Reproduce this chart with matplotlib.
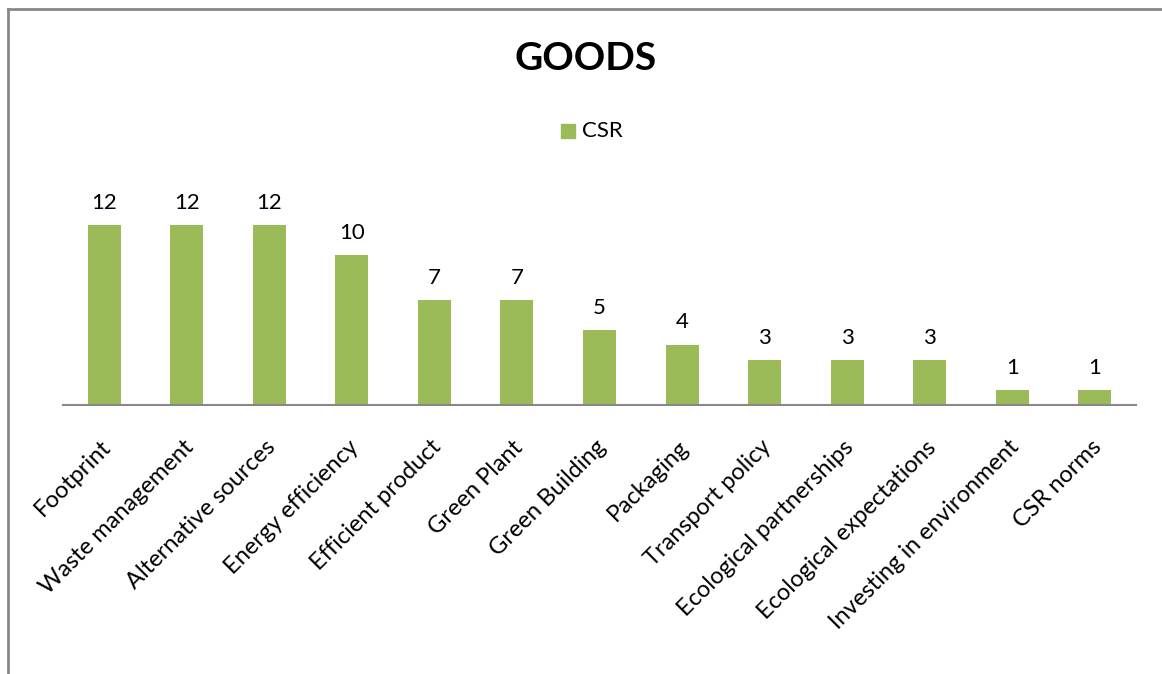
import matplotlib.pyplot as plt
from matplotlib.patches import Rectangle
from matplotlib.lines import Line2D
from matplotlib.transforms import ScaledTranslation

categories = ["Footprint", "Waste management", "Alternative sources", "Energy efficiency",
              "Efficient product", "Green Plant", "Green Building", "Packaging",
              "Transport policy", "Ecological partnerships", "Ecological expectations",
              "Investing in environment", "CSR norms"]
csr = [12, 12, 12, 10, 7, 7, 5, 4, 3, 3, 3, 1, 1]

green = "#9BBB59"
plt.rcParams["font.family"] = ["Lato", "DejaVu Sans"]

W, H = 1162, 674
fig = plt.figure(figsize=(W / 100, H / 100), dpi=100)
# axes box in pixels: x 63..1136, baseline y=405, top y=195 (value 14)
ax = fig.add_axes([63 / W, 1 - 405 / H, (1136 - 63) / W, (405 - 195) / H])

x = range(len(categories))
bars = ax.bar(x, csr, width=0.4, color=green, label="CSR")
for b, v in zip(bars, csr):
    ax.annotate(str(v), (b.get_x() + b.get_width() / 2, v), xytext=(0, 9),
                textcoords="offset points", ha="center", va="bottom", fontsize=16)

ax.set_xlim(-0.5, len(categories) - 0.5)
ax.set_ylim(0, 14)
ax.set_yticks([])
ax.set_xticks(list(x))
ax.set_xticklabels(categories, rotation=45, ha="right", va="center",
                   rotation_mode="anchor", fontsize=17)
ax.tick_params(axis="x", length=0, pad=28)
shift = ScaledTranslation(0.03, 0, fig.dpi_scale_trans)
for lab in ax.get_xticklabels():
    lab.set_transform(lab.get_transform() + shift)
for s in ["top", "right", "left"]:
    ax.spines[s].set_visible(False)
ax.spines["bottom"].set_color("#888888")
ax.spines["bottom"].set_linewidth(1.5)

fig.text(586 / W, 1 - 58 / H, "GOODS", ha="center", va="center",
         fontsize=28, fontweight="bold")
fig.patches.append(Rectangle((561 / W, 1 - 138 / H), 14 / W, 14 / H,
                             transform=fig.transFigure, color=green))
fig.text(582 / W, 1 - 131 / H, "CSR", ha="left", va="center", fontsize=16)

# chart border (top and left visible)
fig.add_artist(Line2D([8 / W, 8 / W], [0, 1 - 9 / H], transform=fig.transFigure,
                      color="#888888", lw=2))
fig.add_artist(Line2D([8 / W, 1], [1 - 9 / H, 1 - 9 / H], transform=fig.transFigure,
                      color="#888888", lw=2))

fig.savefig("out.png", dpi=100)
